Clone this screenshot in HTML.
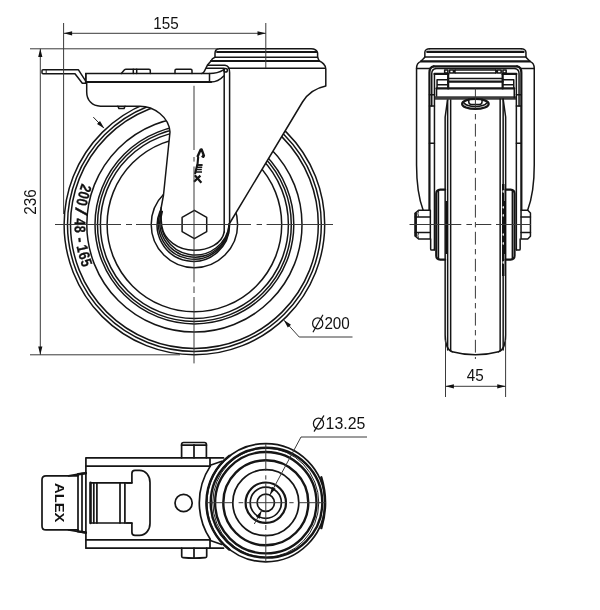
<!DOCTYPE html>
<html><head><meta charset="utf-8"><title>Caster drawing</title>
<style>
html,body{margin:0;padding:0;background:#fff;}
svg{display:block;will-change:transform;filter:grayscale(1)}
.o{stroke:#151515;stroke-width:1.5;fill:none;stroke-linecap:round;stroke-linejoin:round}
.t{stroke:#151515;stroke-width:2.2;fill:none;stroke-linecap:round;stroke-linejoin:round}
.n{stroke:#222;stroke-width:1;fill:none}
.c{stroke:#3a3a3a;stroke-width:1;fill:none}
.d{stroke:#3a3a3a;stroke-width:1;fill:none}
.o.b{stroke-width:1.7}
.t.b{stroke-width:2.4}
.a{fill:#111;stroke:none}
.o.w,.w{fill:#fff}
text{font-family:"Liberation Sans",sans-serif;fill:#111}
.dim{font-size:16.5px}
.g{stroke:#151515;stroke-width:1.25;fill:none;stroke-linecap:round}
.tire{font-size:15.5px;font-weight:bold;stroke:#111;stroke-width:0.3}
.lg path{stroke:#151515;fill:none;stroke-linecap:butt;stroke-linejoin:round}
.alex{font-size:13px;font-weight:bold}
</style></head><body>
<svg width="600" height="610" viewBox="0 0 600 610">
<rect width="600" height="610" fill="#fff"/>
<circle cx="194.4" cy="224.5" r="130.3" class="o"/>
<circle cx="194.4" cy="224.5" r="126.9" class="o"/>
<circle cx="194.4" cy="224.5" r="123.9" class="o"/>
<circle cx="194.4" cy="224.5" r="107.6" class="o"/>
<circle cx="194.4" cy="224.5" r="99.4" class="o"/>
<circle cx="194.4" cy="224.5" r="96.9" class="o"/>
<circle cx="194.4" cy="224.5" r="94.0" class="o"/>
<circle cx="194.4" cy="224.5" r="87.3" class="o"/>
<circle cx="194.4" cy="224.5" r="43.2" class="o"/>
<text transform="translate(80.77,186.56) rotate(108.46) scale(0.8,1.0)" class="tire" text-anchor="middle">2</text>
<text transform="translate(78.60,193.81) rotate(104.84) scale(0.8,1.0)" class="tire" text-anchor="middle">0</text>
<text transform="translate(76.91,201.07) rotate(101.28) scale(0.8,1.0)" class="tire" text-anchor="middle">0</text>
<text transform="translate(75.37,210.94) rotate(96.50) scale(1.7,1.12)" class="tire" text-anchor="middle" style="font-weight:normal">/</text>
<text transform="translate(74.63,221.66) rotate(91.36) scale(0.8,1.0)" class="tire" text-anchor="middle">4</text>
<text transform="translate(74.70,229.44) rotate(87.64) scale(0.8,1.0)" class="tire" text-anchor="middle">8</text>
<text transform="translate(75.68,240.58) rotate(82.29) scale(1.0,1.0)" class="tire" text-anchor="middle">-</text>
<text transform="translate(77.28,249.72) rotate(77.85) scale(0.8,1.0)" class="tire" text-anchor="middle">1</text>
<text transform="translate(79.11,257.08) rotate(74.22) scale(0.8,1.0)" class="tire" text-anchor="middle">6</text>
<text transform="translate(81.45,264.43) rotate(70.53) scale(0.8,1.0)" class="tire" text-anchor="middle">5</text>
<path d="M86.7,82 L86.7,92 C86.7,100 92,106.2 100.5,106.2 L140,106.2 C154,106.2 169,117 170,132 L163.5,195 L161.2,207.5 Q160.8,210 159.99,211.3 A36.17,36.17 0 1 0 229.5,223.5 L302.5,102 C308,93 316,88 325.8,86 L325.8,69 C325.8,65 322,62 319.2,61 L317.6,57.3 L317.6,53 C317,50 314,48.7 311,48.7 L219.7,48.7 C217,48.7 215,50.5 215,53.3 L215,57.3 C213,58 211.5,59.5 211,61 L207.7,64.7 L204.3,71.3 Q203.3,73.3 201.7,73.5 L85.8,73.5 L85.8,82 Z" class="o w"/>
<path d="M217,51.95 H316.5" class="t" style="stroke-width:2"/>
<path d="M215,57.3 H317.6" class="o"/>
<path d="M211,61 H319.2" class="t"/>
<path d="M228.3,68.3 H325" class="o"/>
<path d="M85.8,82 H211" class="t"/>
<path d="M209.5,73.5 V82" class="o"/>
<path d="M201.7,73.5 H209.5 C216,73.5 220,72 223.5,69.8" class="o"/>
<path d="M211,82 C216,82 220,80 223.7,76" class="o"/>
<path d="M207.7,65.3 H225 C228,65.5 229.6,68 229.6,72.5 V223" class="o"/>
<path d="M206.5,68.3 H224.2 V232" class="o"/>
<circle cx="225.6" cy="70.3" r="1.8" class="o"/>
<path d="M121.3,73.5 L124.5,69.8 Q125,69.3 126,69.3 H149 Q150.3,69.3 150.3,70.5 V73.5" class="o"/>
<path d="M133.3,69.3 V73.5 M136.7,69.3 V73.5" class="o"/>
<path d="M175,73.5 V70.5 Q175,69.3 176.2,69.3 H190.8 Q192,69.3 192,70.5 V73.5" class="o"/>
<path d="M117.9,106.2 L119,108.6 H124 L125,106.2" class="o"/>
<path d="M43,69.7 H78.3 L85.4,80.6 M43,73.7 H75 L82.3,83.3 H85.8 V73.5 M43,69.7 Q42,69.7 42,70.7 V72.7 Q42,73.7 43,73.7" class="o"/>
<path d="M46.2,69.7 V73.7" class="n"/>
<path d="M161.2,207.5 C160.6,214 161,221 161.8,226 C164,240 178,250.2 194,250.2 C208,250.2 222,244 224.2,232" class="o"/>
<path d="M160.70,211.5 A35.40,35.40 0 1 0 229.3,223.8" class="o"/>
<path d="M161.61,211.5 A34.74,34.74 0 1 0 229.3,223.8" class="o"/>
<path d="M162.28,211.5 A34.22,34.22 0 1 0 229.3,223.8" class="o"/>
<polygon points="194.40,238.70 182.10,231.60 182.10,217.40 194.40,210.30 206.70,217.40 206.70,231.60" class="o" fill="none"/>
<path d="M93.3,117.1 L103.6,127.8" class="n"/>
<polygon points="104.4,128.6 97.0,124.0 100.0,121.0" class="a"/>
<g class="lg"><path d="M197.4,157 L200.6,149.7 L201.6,149.5 L203.9,155.6 L203.2,156.8 L201.8,155.8" stroke-width="2.4"/><path d="M198.2,156.8 L197.6,163.5 L196.2,169 L195,174" stroke-width="2.1"/><path d="M196.9,165 H202.6" stroke-width="1.9"/><path d="M196.6,167.3 H202.2 M196.2,169.6 H201.8 M195.8,171.9 H202 " stroke-width="1.5"/><path d="M194.8,175.2 L201.4,182.8 M200.4,175.6 L194,181.8" stroke-width="2.2"/></g>
<path d="M194,85.8 V363.4" class="c" stroke-dasharray="64.2 7 4.6 4.9 115.8 4.1 6.6 4 66.4"/>
<path d="M55,224.5 H333" class="c" stroke-dasharray="66 5 6 4 115 5.6 5.4 4.6 66.4"/>
<path d="M63.6,23 V214 M265.8,23 V68 M63.8,33.3 H265.8" class="d"/>
<polygon points="63.8,33.3 72.1,31.2 72.1,35.4" class="a"/>
<polygon points="265.8,33.3 257.5,31.2 257.5,35.4" class="a"/>
<text x="166" y="28.8" class="dim" text-anchor="middle" textLength="25.4" lengthAdjust="spacingAndGlyphs">155</text>
<path d="M30,48.8 H219 M30,354.8 H180 M40.3,48.8 V354.8" class="d"/>
<polygon points="40.3,48.8 38.2,57 42.4,57" class="a"/>
<polygon points="40.3,354.8 38.2,346.6 42.4,346.6" class="a"/>
<text transform="translate(35.5,202) rotate(-90)" class="dim" text-anchor="middle" textLength="25.4" lengthAdjust="spacingAndGlyphs">236</text>
<path d="M284.2,320.4 L299.2,337 H352.5" class="d"/>
<polygon points="283.8,320 287.8,327.6 291.0,324.8" class="a"/>
<ellipse cx="317.7" cy="323.4" rx="5.1" ry="5.5" class="g"/><path d="M313.2,331.8 L322.7,315.2" class="g"/>
<text x="324.4" y="329.1" class="dim" textLength="25.4" lengthAdjust="spacingAndGlyphs">200</text>
<g transform="translate(0.25,0)">
<path d="M429.3,48.75 C427,48.75 424.6,50 424.6,52.3 V56.9 C423.8,58.5 422,59.5 420.6,61.4 C418.2,62.3 416.3,64.8 416.3,68.4 V165 C416.3,185 419,200 423,210.5" class="o"/>
<path d="M416.3,68.4 H430" class="o"/>
<path d="M433.5,66.3 C431,66.8 429.2,69 429.2,72.5 V210" class="t"/>
<path d="M435.5,68.6 C433.5,69 431.6,70.5 431.5,73.5 V106" class="o"/>
<path d="M434.2,74 V250" class="o"/>
<path d="M429.2,94.7 H434.2 M429.2,106 H434.2 M429.2,143.3 H434.2" class="o"/>
<path d="M444.4,70.1 H447.6 V73 H444.4 Z M449.4,70.1 H453.2 V73 H449.4 Z M454.7,70.1 V73" class="o"/>
<path d="M434.2,73.9 H448" class="t"/>
<path d="M447.9,74.2 V88.4" class="t"/>
<path d="M436.8,79.7 H447.9 M436.8,84.7 H447.9 M436.8,79.7 V88.4" class="o"/>
<path d="M436.3,88.4 V97.7" class="o"/>
<path d="M447.4,99 V350" class="o"/>
<path d="M447.4,99 L444.9,117 V335 C444.9,345 447,350 452,351.8" class="o"/>
<path d="M450.4,99 V350.5" class="o"/>
<path d="M444.9,189.6 H440 C437.5,189.8 436,191 436,193.5 V255.8 C436,258.3 437.5,259.5 440,259.7 H444.9" class="t"/>
<path d="M438.2,190.5 V258.8" class="o"/>
<path d="M446.2,201 V254" stroke="#111" stroke-width="2.2" fill="none"/>
<path d="M430.4,239 V249 Q430.4,250.1 431.4,250.1 H433.2 Q434.2,250.1 434.2,249" class="o"/>
<path d="M429.3,48.75 H521.00" class="o"/>
<path d="M427,51.95 H523.30" class="t"/>
<path d="M424.6,56.9 H525.70" class="o"/>
<path d="M420.8,61.4 H529.50" class="t"/>
<path d="M433.5,66.3 H516.80" class="t"/>
<path d="M435.5,68.6 H514.80" class="o"/>
<path d="M454.7,70.1 H495.60" class="o"/>
<path d="M454.7,73 H495.60" class="o"/>
<path d="M447.9,78.5 H502.40" class="o"/>
<path d="M447.9,81.6 H502.40" class="t"/>
<path d="M436.3,88.4 H514.00" class="t"/>
<path d="M434.6,97.9 H515.70" stroke="#3c3c3c" stroke-width="3.5" fill="none"/>
<path d="M452,351.8 C460,354 468,354.8 475.15,354.8 C482.30,354.8 490.30,354 498.30,351.8" class="o"/>
<g transform="translate(950.3,0) scale(-1,1)">
<path d="M429.3,48.75 C427,48.75 424.6,50 424.6,52.3 V56.9 C423.8,58.5 422,59.5 420.6,61.4 C418.2,62.3 416.3,64.8 416.3,68.4 V165 C416.3,185 419,200 423,210.5" class="o"/>
<path d="M416.3,68.4 H430" class="o"/>
<path d="M433.5,66.3 C431,66.8 429.2,69 429.2,72.5 V210" class="t"/>
<path d="M435.5,68.6 C433.5,69 431.6,70.5 431.5,73.5 V106" class="o"/>
<path d="M434.2,74 V250" class="o"/>
<path d="M429.2,94.7 H434.2 M429.2,106 H434.2 M429.2,143.3 H434.2" class="o"/>
<path d="M444.4,70.1 H447.6 V73 H444.4 Z M449.4,70.1 H453.2 V73 H449.4 Z M454.7,70.1 V73" class="o"/>
<path d="M434.2,73.9 H448" class="t"/>
<path d="M447.9,74.2 V88.4" class="t"/>
<path d="M436.8,79.7 H447.9 M436.8,84.7 H447.9 M436.8,79.7 V88.4" class="o"/>
<path d="M436.3,88.4 V97.7" class="o"/>
<path d="M447.4,99 V350" class="o"/>
<path d="M447.4,99 L444.9,117 V335 C444.9,345 447,350 452,351.8" class="o"/>
<path d="M450.4,99 V350.5" class="o"/>
<path d="M444.9,189.6 H440 C437.5,189.8 436,191 436,193.5 V255.8 C436,258.3 437.5,259.5 440,259.7 H444.9" class="t"/>
<path d="M438.2,190.5 V258.8" class="o"/>
<path d="M446.2,201 V254" stroke="#111" stroke-width="2.2" fill="none"/>
<path d="M430.4,239 V249 Q430.4,250.1 431.4,250.1 H433.2 Q434.2,250.1 434.2,249" class="o"/>
</g>
<path d="M418.3,210.3 H430.1 V239 H418.3 L414.8,236 V213.3 Z" class="o w"/>
<path d="M415.6,213.3 V236" class="t"/>
<path d="M415,216.9 H430.1 M415,232.4 H430.1" class="o"/>
<path d="M418.3,210.3 Q417,213.5 418.3,216.9 M418.3,232.4 Q417,235.5 418.3,239" class="n"/>
<path d="M520.8,210.3 H527.5 L530.2,213 V236.3 L527.5,239 H520.8 Z" class="o w"/>
<path d="M520.8,216.9 H530.2 M520.8,232.4 H530.2" class="o"/>
<path d="M503.0,184 V276" stroke="#151515" stroke-width="2.5" fill="none"/>
<ellipse cx="503.0" cy="191.5" rx="0.65" ry="1.4" fill="#fff"/>
<ellipse cx="503.0" cy="207.3" rx="0.65" ry="1.4" fill="#fff"/>
<ellipse cx="503.0" cy="215.4" rx="0.65" ry="1.4" fill="#fff"/>
<ellipse cx="503.0" cy="234.6" rx="0.65" ry="1.4" fill="#fff"/>
<ellipse cx="503.0" cy="243.5" rx="0.65" ry="1.4" fill="#fff"/>
<ellipse cx="503.0" cy="262.5" rx="0.65" ry="1.4" fill="#fff"/>
<ellipse cx="475.15" cy="103.9" rx="13.3" ry="5" class="t"/>
<path d="M463.8,103 C467,107.6 483,107.6 486.5,103" class="o"/>
<path d="M468.5,99.3 V101.8 Q468.5,104.4 471.2,104.4 H479.1 Q481.8,104.4 481.8,101.8 V99.3" class="o"/>
<path d="M475.15,88.4 V108.6" class="c"/><path d="M475.15,114 V359" class="c" stroke-dasharray="5.4 4.4 12.8 4.4"/>
<path d="M409.25,224.5 H530.75" class="c" stroke-dasharray="51.8 5.1 5.6 4 15.3 4.7 35"/>
<path d="M445.25,340 V397 M505.35,340 V397 M445.25,386.3 H505.35" class="d"/>
<polygon points="445.25,386.3 453.6,384.2 453.6,388.4" class="a"/>
<polygon points="505.35,386.3 497,384.2 497,388.4" class="a"/>
<text x="475.05" y="381" class="dim" text-anchor="middle" textLength="17" lengthAdjust="spacingAndGlyphs">45</text>
</g>
<path d="M181.6,457.8 V444.5 Q181.6,442.5 183.6,442.5 H204.4 Q206.4,442.5 206.4,444.5 V457.8" class="o b"/>
<path d="M181.6,445.2 H206.4" class="o b"/>
<path d="M194,444.8 V457.8" class="o b"/>
<path d="M181.7,548.2 V556.2 Q181.7,557.5 183,557.6 Q194,558.6 205.4,557.6 Q206.7,557.5 206.7,556.2 V548.2" class="o b"/>
<path d="M194,548.2 V558" class="o b"/>
<path d="M223.5,457.8 H85.9 V548.2 H223.5" class="o b"/>
<path d="M85.9,466.1 H210.3 M85.9,539.8 H210.3" class="o b"/>
<path d="M210,457.8 V466.1 M210,539.8 V548.2" class="o b"/>
<path d="M210.3,465.3 L221.8,461.3 M210.3,540.5 L221.8,544.5" class="o b"/>
<path d="M210.28,466.1 A66.5,66.5 0 0 0 210.28,539.30" class="o b"/>
<circle cx="265.8" cy="502.7" r="59.1" class="o b w"/>
<path d="M229.23,549.51 A59.4,59.4 0 0 1 229.23,455.89" class="t b"/>
<ellipse cx="266.5" cy="502.7" rx="55.8" ry="54.9" class="t b"/>
<ellipse cx="265.8" cy="502.7" rx="53.0" ry="54.6" class="o" style="stroke-width:0.95"/>
<circle cx="265.8" cy="502.7" r="50.7" class="t b"/>
<circle cx="265.8" cy="502.7" r="42.5" class="t b"/>
<circle cx="265.8" cy="502.7" r="33.0" class="o b"/>
<circle cx="265.8" cy="502.7" r="20.2" class="t"/>
<circle cx="265.8" cy="502.7" r="15.6" class="o b"/>
<circle cx="265.8" cy="502.7" r="8.65" class="o b"/>
<path d="M321.3,477.3 Q329,502.7 321.3,528.1" class="t b"/>
<circle cx="183.6" cy="503" r="8.6" class="o b"/>
<path d="M78,475.8 H46 Q42,475.8 42,479.8 V525.9 Q42,529.9 46,529.9 H78" class="o b"/>
<path d="M78,474.5 V531.2 M82,473.7 V532 " class="o b"/>
<path d="M68.5,475.8 L85.9,472.8 M68.5,529.9 L85.9,532.9" class="o b"/>
<path d="M78,474.3 L85.9,473.2" class="t b"/>
<path d="M78,531.4 L85.9,532.5" class="t b"/>
<text transform="translate(54.6,483) rotate(90)" class="alex" textLength="39.5" lengthAdjust="spacingAndGlyphs">ALEX</text>
<path d="M131.9,482.8 H90.5 V523 H131.9" class="o b"/>
<path d="M90.5,482.8 V523" class="t b"/>
<path d="M93.8,482.8 V523 M96.9,482.8 V523 M120,482.8 V523 M124.9,482.8 V523" class="o b"/>
<path d="M126.8,482.8 H131.9 V473.5 Q131.9,470.3 135,470.3 H139.5 C146,470.3 150,476 150,482.5 V523.2 C150,529.5 146,535.3 139.5,535.3 H135 Q131.9,535.3 131.9,532.2 V523 H126.8" class="o b"/>
<path d="M265.8,444 V562" class="c" stroke-dasharray="27 4.3 4.3 3.6 39 2.8 5 4.4 27.6"/>
<path d="M206.5,502.7 H325.7" class="c" stroke-dasharray="26 6.1 4.7 3.3 40.1 2.6 4.3 5 27.1"/>
<path d="M254.3,524 L261.72,510.38 M269.88,495.02 L301,437 H367" class="d"/>
<polygon points="269.88,495.02 275.63,488.67 271.92,486.70" class="a"/>
<polygon points="261.72,510.38 255.97,516.73 259.68,518.70" class="a"/>
<ellipse cx="318.5" cy="423.6" rx="5.1" ry="5.5" class="g"/><path d="M314.3,431.2 L323.7,415.8" class="g"/>
<text x="325.6" y="429.3" class="dim" textLength="39.8" lengthAdjust="spacingAndGlyphs">13.25</text>
</svg>
</body></html>
